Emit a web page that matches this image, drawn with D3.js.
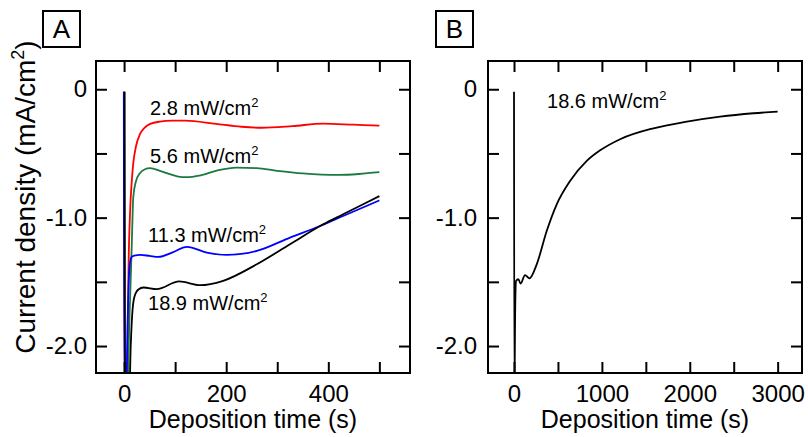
<!DOCTYPE html>
<html>
<head>
<meta charset="utf-8">
<script src="https://cdn.jsdelivr.net/npm/d3@7"></script>
<style>
body{margin:0;background:#fff;}
text{font-family:"Liberation Sans",Arial,Helvetica,sans-serif;fill:#000;}
</style>
</head>
<body>
<script>
//// data: [time (s), current density (mA/cm2)]
var red28 = [[0,-0.02],[1,-2.4],[5,-2.4],[7,-2.0],[8.4,-1.48],[11.7,-0.96],[15,-0.72],[18.2,-0.57],[23,-0.45],[31,-0.35],[40,-0.3],[51,-0.27],[70,-0.252],[95,-0.245],[120,-0.244],[180,-0.27],[230,-0.292],[270,-0.3],[330,-0.287],[390,-0.268],[450,-0.276],[500,-0.283]];
var green56 = [[0.5,-0.02],[1.5,-2.4],[7,-2.4],[9,-2.0],[12,-1.6],[15,-1.22],[18,-0.84],[23,-0.72],[31,-0.654],[40,-0.625],[51,-0.615],[70,-0.635],[84,-0.654],[106,-0.68],[122,-0.685],[150,-0.67],[185,-0.63],[220,-0.61],[260,-0.615],[300,-0.635],[350,-0.655],[420,-0.667],[460,-0.66],[500,-0.646]];
var blue113 = [[-0.5,-0.02],[0.5,-2.4],[4,-2.4],[7,-1.8],[10,-1.42],[14,-1.31],[20,-1.295],[32,-1.29],[50,-1.298],[67,-1.306],[95,-1.27],[123,-1.228],[162,-1.272],[201,-1.29],[260,-1.259],[325,-1.155],[384,-1.065],[429,-0.987],[500,-0.866]];
var black189 = [[1,-0.02],[2,-2.4],[10,-2.4],[13,-2.0],[16,-1.75],[20,-1.62],[28,-1.56],[38,-1.544],[64,-1.557],[108,-1.497],[149,-1.526],[194,-1.492],[260,-1.363],[325,-1.207],[390,-1.052],[429,-0.974],[500,-0.832]];
var black186 = [[0,-0.02],[4,-2.4],[12,-1.8],[23,-1.494],[49,-1.48],[76,-1.514],[125,-1.447],[175,-1.473],[258,-1.364],[372,-1.104],[486,-0.896],[638,-0.714],[828,-0.558],[980,-0.476],[1207,-0.389],[1587,-0.304],[1967,-0.252],[2346,-0.213],[2725,-0.187],[3000,-0.174]];

var seriesA = [red28, green56, blue113, black189];
var colorsA = ["#ff0000", "#1a7a40", "#0000ff", "#000000"];
var labelsA = ["2.8", "5.6", "11.3", "18.9"];
var labelPosA = [[51,-0.2],[51,-0.577],[47,-1.186],[47,-1.718]];
var labelB = "18.6";
var labelPosB = [376,-0.146];

var ticksXA = [0,100,200,300,400,500];
var ticksXB = [0,500,1000,1500,2000,2500,3000];
var ticksY = [0,-0.5,-1.0,-1.5,-2.0];
var labeledY = ["0","-1.0","-2.0"];

///some constants
var W = 808, H = 437;
var tickLen = 11;

var svg = d3.select("body").append("svg")
	.attr("width", W)
	.attr("height", H);

var y = d3.scaleLinear()
	.domain([-2.21, 0.22])
	.range([373, 61]);

function drawPanel(opt){
	var x = d3.scaleLinear()
		.domain(opt.xdomain)
		.range([opt.left, opt.right]);
	var top = y.range()[1], bottom = y.range()[0];

	//clip so the spikes stop at the frame
	svg.append("clipPath").attr("id", "clip" + opt.name)
		.append("rect")
		.attr("x", opt.left).attr("y", top)
		.attr("width", opt.right - opt.left).attr("height", bottom - top);

	var line = d3.line()
		.x(function(d){ return x(d[0]); })
		.y(function(d){ return y(d[1]); })
		.curve(d3.curveMonotoneX);

	var g = svg.append("g").attr("clip-path", "url(#clip" + opt.name + ")");
	g.selectAll("path")
		.data(opt.series)
		.enter().append("path")
		.attr("d", line)
		.style("fill", "none")
		.style("stroke", function(d, i){ return opt.colors[i]; })
		.style("stroke-width", 1.8)
		.style("stroke-linejoin", "round");

	//axes, ticks pointing inward on all four sides
	var xb = svg.append("g").attr("transform", "translate(0," + bottom + ")")
		.call(d3.axisBottom(x).tickValues(opt.xticks).tickSize(-tickLen).tickPadding(12)
			.tickFormat(function(d){ return opt.xlabeled.indexOf(d) >= 0 ? d : ""; }));
	var xt = svg.append("g").attr("transform", "translate(0," + top + ")")
		.call(d3.axisTop(x).tickValues(opt.xticks).tickSize(-tickLen).tickFormat(""));
	var yl = svg.append("g").attr("transform", "translate(" + opt.left + ",0)")
		.call(d3.axisLeft(y).tickValues(ticksY).tickSize(-tickLen).tickPadding(opt.ypad)
			.tickFormat(function(d){
				var s = d === 0 ? "0" : d3.format(".1f")(d).replace("\u2212", "-");
				return labeledY.indexOf(s) >= 0 ? s : "";
			}));
	var yr = svg.append("g").attr("transform", "translate(" + opt.right + ",0)")
		.call(d3.axisRight(y).tickValues(ticksY).tickSize(-tickLen).tickFormat(""));

	[xb, xt, yl, yr].forEach(function(a){
		a.select(".domain").remove();
		a.selectAll(".tick line").style("stroke", "#000").style("stroke-width", 2);
		a.selectAll(".tick text").style("font-size", "24px")
			.style("font-family", '"Liberation Sans",Arial,sans-serif').attr("fill", "#000");
	});

	//frame
	svg.append("rect")
		.attr("x", opt.left).attr("y", top)
		.attr("width", opt.right - opt.left).attr("height", bottom - top)
		.style("fill", "none").style("stroke", "#000").style("stroke-width", 2);

	//x title
	svg.append("text")
		.attr("x", (opt.left + opt.right) / 2).attr("y", 428)
		.attr("text-anchor", "middle")
		.style("font-size", "25px")
		.text("Deposition time (s)");

	//curve annotations
	opt.labels.forEach(function(l, i){
		var t = svg.append("text")
			.attr("x", x(opt.labelPos[i][0])).attr("y", y(opt.labelPos[i][1]))
			.style("font-size", "20px");
		t.append("tspan").text(l + " mW/cm");
		t.append("tspan").attr("dy", -8).style("font-size", "13px").text("2");
	});

	//panel letter in a box
	svg.append("rect")
		.attr("x", opt.boxX).attr("y", 11).attr("width", 37).attr("height", 36)
		.style("fill", "none").style("stroke", "#000").style("stroke-width", 2);
	svg.append("text")
		.attr("x", opt.boxX + 18.5).attr("y", 38)
		.attr("text-anchor", "middle")
		.style("font-size", "26px")
		.text(opt.name);
}

drawPanel({
	name: "A", left: 96, right: 410, xdomain: [-55, 560],
	xticks: ticksXA, xlabeled: [0, 200, 400], ypad: 9,
	series: seriesA, colors: colorsA,
	labels: labelsA, labelPos: labelPosA, boxX: 43
});
drawPanel({
	name: "B", left: 488, right: 802, xdomain: [-296, 3277],
	xticks: ticksXB, xlabeled: [0, 1000, 2000, 3000], ypad: 11,
	series: [black186], colors: ["#000000"],
	labels: [labelB], labelPos: [labelPosB], boxX: 436
});

//y title, only on panel A
var yt = svg.append("text")
	.attr("transform", "translate(35,197) rotate(-90)")
	.attr("text-anchor", "middle")
	.style("font-size", "28px");
yt.append("tspan").text("Current density (mA/cm");
yt.append("tspan").attr("dy", -11).style("font-size", "18px").text("2");
yt.append("tspan").attr("dy", 11).text(")");
</script>
</body>
</html>
